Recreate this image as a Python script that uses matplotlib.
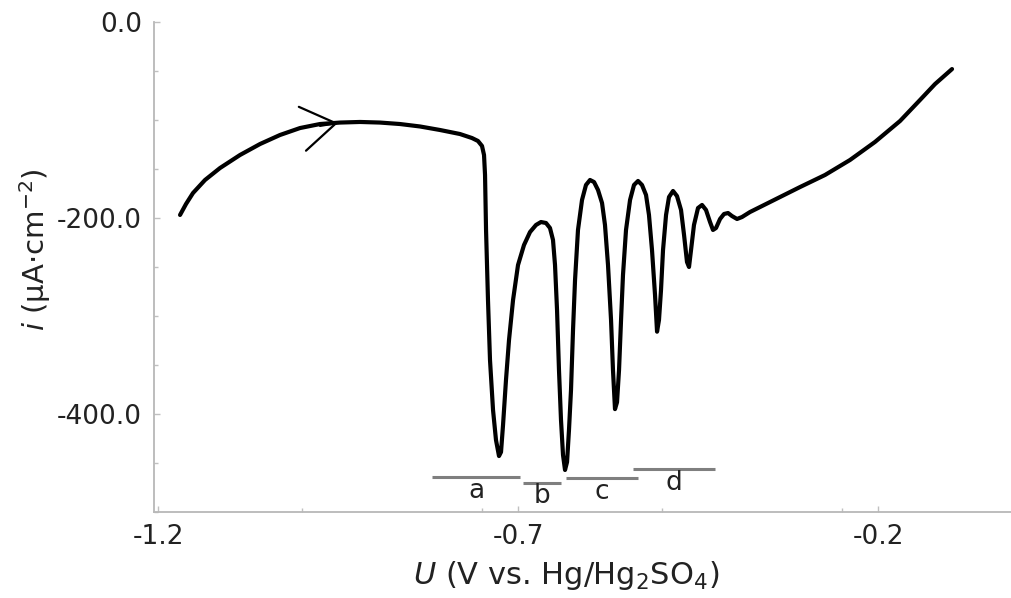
import matplotlib
matplotlib.use('Agg')
import matplotlib.pyplot as plt
from matplotlib.ticker import FixedLocator, MultipleLocator, FormatStrFormatter

# ---- data ----
U = [-1.1694, -1.1611, -1.1514, -1.1347, -1.1139, -1.0861, -1.0583, -1.0306,
     -1.0028, -0.9750, -0.9472, -0.9194, -0.8917, -0.8639, -0.8361, -0.8083,
     -0.7806, -0.7639, -0.7556, -0.7500, -0.7472, -0.7458, -0.7444, -0.7417,
     -0.7389, -0.7347, -0.7306, -0.7264, -0.7236, -0.7208, -0.7167, -0.7125,
     -0.7069, -0.7000, -0.6917, -0.6833, -0.6750, -0.6681, -0.6611, -0.6556,
     -0.6514, -0.6486, -0.6458, -0.6431, -0.6403, -0.6375, -0.6347, -0.6319,
     -0.6292, -0.6264, -0.6236, -0.6208, -0.6167, -0.6111, -0.6056, -0.6000,
     -0.5944, -0.5889, -0.5833, -0.5792, -0.5750, -0.5708, -0.5681, -0.5653,
     -0.5625, -0.5597, -0.5569, -0.5542, -0.5500, -0.5444, -0.5389, -0.5333,
     -0.5278, -0.5222, -0.5181, -0.5139, -0.5097, -0.5069, -0.5042, -0.5014,
     -0.4986, -0.4944, -0.4903, -0.4847, -0.4792, -0.4736, -0.4694, -0.4653,
     -0.4625, -0.4597, -0.4556, -0.4500, -0.4444, -0.4389, -0.4333, -0.4292,
     -0.4250, -0.4194, -0.4139, -0.4083, -0.4028, -0.3958, -0.3889, -0.3778,
     -0.3639, -0.3361, -0.3083, -0.2736, -0.2389, -0.2042, -0.1694, -0.1417,
     -0.1208, -0.0972]
I = [-196.9, -185.7, -174.5, -161.2, -149.0, -135.7, -124.5, -115.3,
     -108.2, -104.1, -102.6, -102.0, -102.6, -104.1, -106.6, -110.2,
     -114.3, -118.4, -121.4, -126.5, -135.7, -156.1, -212.2, -283.7,
     -344.9, -395.9, -426.5, -442.9, -438.8, -411.2, -365.3, -324.5,
     -283.7, -248.0, -227.6, -214.3, -207.1, -204.1, -205.1, -210.2,
     -222.4, -248.0, -293.9, -355.1, -406.1, -441.8, -457.1, -449.0,
     -416.3, -375.5, -314.3, -263.3, -212.2, -181.6, -166.3, -161.2,
     -163.3, -171.4, -184.7, -207.1, -248.0, -304.1, -355.1, -395.0,
     -388.0, -355.1, -304.1, -258.2, -212.2, -181.6, -166.3, -162.2,
     -166.3, -176.5, -196.9, -232.7, -278.6, -316.0, -304.1, -273.5,
     -232.7, -196.9, -178.6, -172.4, -177.6, -191.8, -217.3, -244.9,
     -250.0, -232.7, -207.1, -189.8, -186.7, -191.8, -204.1, -212.2,
     -210.2, -201.0, -195.9, -194.9, -198.0, -201.0, -199.0, -193.9,
     -188.8, -178.6, -168.4, -156.1, -140.8, -122.4, -101.0, -79.6,
     -63.3, -48.0]

x_ticks = [-1.2, -0.7, -0.2]
y_ticks = [0.0, -200.0, -400.0]

seg_names = ['a', 'b', 'c', 'd']
seg_start = [-0.819, -0.693, -0.634, -0.540]
seg_end = [-0.697, -0.640, -0.533, -0.426]
seg_level = [-464.0, -470.0, -465.0, -456.0]

arrow_tip = (-0.950, -103.0)
arrow_tail = (-0.975, -106.0)

# ---- style ----
plt.rcParams['font.family'] = ['DejaVu Sans']
plt.rcParams['mathtext.fontset'] = 'dejavusans'
plt.rcParams['axes.unicode_minus'] = False

fig = plt.figure(figsize=(10.11, 5.98), dpi=100)
ax = fig.add_axes([0.1523, 0.1438, 0.8477, 0.8194])

ax.plot(U, I, color='black', lw=3.0, solid_joinstyle='round', solid_capstyle='round')

ax.annotate('', xy=arrow_tip, xytext=arrow_tail,
            arrowprops=dict(arrowstyle='->,head_length=2.45,head_width=1.6',
                            mutation_scale=10, lw=1.6, color='black',
                            shrinkA=0, shrinkB=0))

for name, s, e, lev in zip(seg_names, seg_start, seg_end, seg_level):
    ax.plot([s, e], [lev, lev], color='#7f7f7f', lw=2.2, solid_capstyle='butt')
    ax.annotate(name, xy=((s + e) / 2, lev), xytext=(0, -10), textcoords='offset points',
                ha='center', va='center', fontsize=19, color='#222222')

ax.set_xlim(-1.2056, -0.0153)
ax.set_ylim(-500, 0)

ax.xaxis.set_major_locator(FixedLocator(x_ticks))
ax.xaxis.set_minor_locator(MultipleLocator(0.25))
ax.yaxis.set_major_locator(FixedLocator(y_ticks))
ax.yaxis.set_minor_locator(MultipleLocator(50))
ax.xaxis.set_major_formatter(FormatStrFormatter('%.1f'))
ax.yaxis.set_major_formatter(FormatStrFormatter('%.1f'))

for side in ['top', 'right']:
    ax.spines[side].set_visible(False)
for side in ['left', 'bottom']:
    ax.spines[side].set_color('#b8b8b8')
    ax.spines[side].set_linewidth(1.3)

ax.tick_params(which='both', direction='in', color='#c0c0c0', width=1.0)
ax.tick_params(which='major', length=4, labelsize=19, labelcolor='#222222', pad=8.5)
ax.tick_params(which='minor', length=3)

ax.set_xlabel(r'$\it{U}$ (V vs. Hg/Hg$_2$SO$_4$)', fontsize=22, color='#222222')
ax.set_ylabel(r'$\it{i}$ (μA·cm$^{-2}$)', fontsize=21, color='#222222')
ax.xaxis.set_label_coords(0.481, -0.095)
ax.yaxis.set_label_coords(-0.118, 0.535)

fig.savefig('out.png', dpi=100)
